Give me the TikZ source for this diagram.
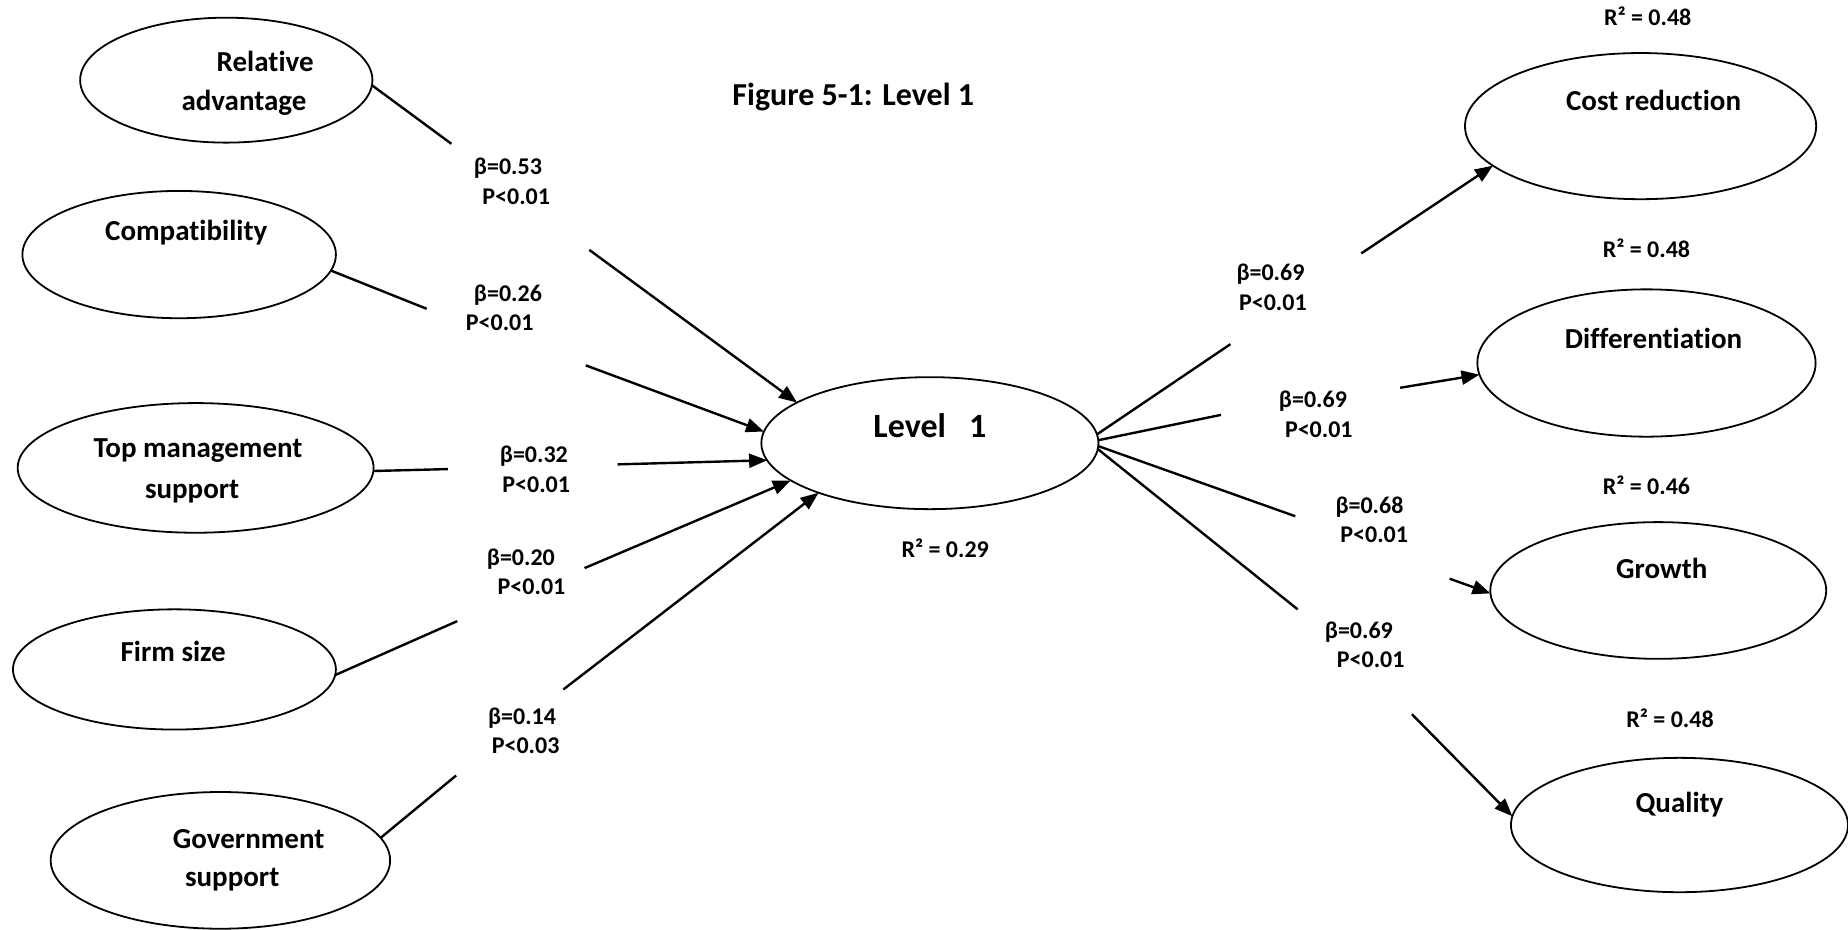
\documentclass[tikz,border=0pt]{standalone}
\usepackage{fontspec}
\setmainfont{Carlito}[Ligatures=NoCommon]
\usetikzlibrary{arrows.meta,shapes.geometric}
\newcommand{\pxu}{0.5893pt}
\begin{document}
\begin{tikzpicture}[x=\pxu,y=-\pxu,
  construct/.style={draw,ellipse,line width=0.9pt,inner sep=0pt,outer sep=0pt},
  cname/.style={font=\fontsize{14.5}{17}\selectfont\bfseries,inner sep=0pt},
  coef/.style={font=\fontsize{12}{14}\selectfont\bfseries,inner sep=0pt},
  path/.style={line width=1.2pt},
  patharrow/.style={line width=1.2pt,-{Triangle[length=9pt,width=7pt]}}]
\useasboundingbox (0,0) rectangle (1568,789);

% title
\node[font=\fontsize{16}{19}\selectfont\bfseries,inner sep=0pt] (title) at (724,82) {Figure 5-1: Level 1};

% exogenous constructs
\node[construct,minimum width=248*\pxu,minimum height=106*\pxu] (ra) at (192,68) {};
\node[cname] (ra-t1) at (225,52) {Relative};
\node[cname] (ra-t2) at (207,87) {advantage};

\node[construct,minimum width=266*\pxu,minimum height=108*\pxu] (cp) at (152,216) {};
\node[cname] (cp-t) at (158,197) {Compatibility};

\node[construct,minimum width=302*\pxu,minimum height=110*\pxu] (tm) at (166,397) {};
\node[cname] (tm-t1) at (168,382) {Top management};
\node[cname] (tm-t2) at (163,417) {support};

\node[construct,minimum width=274*\pxu,minimum height=102*\pxu] (fs) at (148,568) {};
\node[cname] (fs-t) at (147,553) {Firm size};

\node[construct,minimum width=288*\pxu,minimum height=116*\pxu] (gs) at (187,730) {};
\node[cname] (gs-t1) at (211,712) {Government};
\node[cname] (gs-t2) at (197,746) {support};

% central construct
\node[construct,minimum width=286*\pxu,minimum height=112*\pxu] (lv) at (789,376) {};
\node[cname,font=\fontsize{17}{20}\selectfont\bfseries] (lv-t) at (789,361) {Level\ \ \ 1};
\node[coef] (lv-r) at (802,465) {R² = 0.29};

% outcome constructs
\node[construct,minimum width=298*\pxu,minimum height=124*\pxu] (cr) at (1392,107) {};
\node[cname] (cr-t) at (1403,85) {Cost reduction};
\node[coef] (cr-r) at (1398,14) {R² = 0.48};

\node[construct,minimum width=287*\pxu,minimum height=125*\pxu] (df) at (1397,308) {};
\node[cname] (df-t) at (1403,287) {Differentiation};
\node[coef] (df-r) at (1397,211) {R² = 0.48};

\node[construct,minimum width=285*\pxu,minimum height=116*\pxu] (gr) at (1407,501) {};
\node[cname] (gr-t) at (1410,482) {Growth};
\node[coef] (gr-r) at (1397,412) {R² = 0.46};

\node[construct,minimum width=286*\pxu,minimum height=114*\pxu] (ql) at (1425,700) {};
\node[cname] (ql-t) at (1425,683) {Quality};
\node[coef] (ql-r) at (1417,609) {R² = 0.48};

% break points of the paths around the coefficients
\coordinate (g1a) at (383,122); \coordinate (g1b) at (500,212);
\coordinate (g2a) at (362,262); \coordinate (g2b) at (497,310);
\coordinate (g3a) at (380,398); \coordinate (g3b) at (524,394);
\coordinate (g4a) at (388,527); \coordinate (g4b) at (496,482);
\coordinate (g5a) at (387,658); \coordinate (g5b) at (478,585);
\coordinate (h1a) at (1044,292); \coordinate (h1b) at (1155,215);
\coordinate (h2a) at (1036,352); \coordinate (h2b) at (1188,329);
\coordinate (h3a) at (1099,438); \coordinate (h3b) at (1230,491);
\coordinate (h4a) at (1101,517); \coordinate (h4b) at (1198,606);

% paths into Level 1
\draw[path] (ra.-2) -- (g1a);  \draw[patharrow] (g1b) -- (lv.163);
\draw[path] (cp.-6) -- (g2a);  \draw[patharrow] (g2b) -- (lv.176);
\draw[path] (tm.-1) -- (g3a);  \draw[patharrow] (g3b) -- (lv.186);
\draw[path] (fs.-2) -- (g4a);  \draw[patharrow] (g4b) -- (lv.195);
\draw[path] (gs.8) -- (g5a);   \draw[patharrow] (g5b) -- (lv.204);

% paths out of Level 1
\draw[path] (lv.3) -- (h1a);   \draw[patharrow] (h1b) -- (cr.195);
\draw[path] (lv.1) -- (h2a);   \draw[patharrow] (h2b) -- (df.184);
\draw[path] (lv.-1) -- (h3a);  \draw[patharrow] (h3b) -- (gr.181);
\draw[path] (lv.-2) -- (h4a);  \draw[patharrow] (h4b) -- (ql.177);

% path coefficients
\node[coef] (b1) at (431,143) {β=0.53}; \node[coef] (p1) at (438,167) {P<0.01};
\node[coef] (b2) at (431,250) {β=0.26}; \node[coef] (p2) at (424,274) {P<0.01};
\node[coef] (b3) at (453,387) {β=0.32}; \node[coef] (p3) at (455,411) {P<0.01};
\node[coef] (b4) at (442,474) {β=0.20}; \node[coef] (p4) at (451,498) {P<0.01};
\node[coef] (b5) at (443,609) {β=0.14}; \node[coef] (p5) at (446,633) {P<0.03};

\node[coef] (c1) at (1078,233) {β=0.69}; \node[coef] (q1) at (1080,257) {P<0.01};
\node[coef] (c2) at (1114,340) {β=0.69}; \node[coef] (q2) at (1119,365) {P<0.01};
\node[coef] (c3) at (1162,430) {β=0.68}; \node[coef] (q3) at (1166,454) {P<0.01};
\node[coef] (c4) at (1153,536) {β=0.69}; \node[coef] (q4) at (1163,560) {P<0.01};
\end{tikzpicture}
\end{document}
